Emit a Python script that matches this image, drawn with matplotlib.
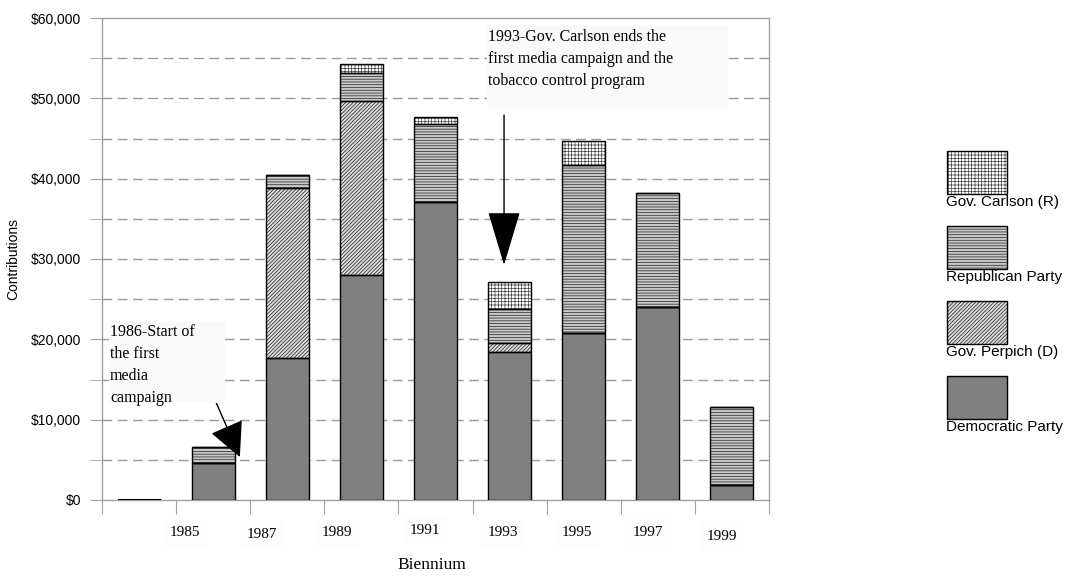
import matplotlib
matplotlib.use("Agg")
import matplotlib.pyplot as plt
from matplotlib.patches import Rectangle
from matplotlib.ticker import MultipleLocator, FuncFormatter
import numpy as np

# ==================================================
# DATA
# ==================================================

year_labels = ['', '1985', '1987', '1989', '1991', '1993', '1995', '1997', '1999']

democratic = [0, 4640, 17640, 28000, 37060, 18380, 20750, 23990, 1870]
perpich    = [0, 0, 21240, 21670, 0, 1120, 0, 0, 0]
republican = [0, 1920, 1580, 3450, 9710, 4280, 20950, 14270, 9670]
carlson    = [0, 0, 0, 1160, 950, 3320, 2990, 0, 0]

series_names = ['Democratic Party', 'Gov. Perpich (D)', 'Republican Party', 'Gov. Carlson (R)']

# ==================================================
# STYLE
# ==================================================

plt.rcParams['hatch.linewidth'] = 0.5
SANS = 'Liberation Sans'
SERIF = 'Liberation Serif'
GRAY = '#a0a0a0'

# fill, hatch pattern, hatch colour
styles = {
    'Democratic Party': dict(facecolor='#808080', hatch=None, hc='#808080'),
    'Gov. Perpich (D)': dict(facecolor='#dcdcdc', hatch='/////////', hc='#202020'),
    'Republican Party': dict(facecolor='#c8c8c8', hatch='------', hc='#202020'),
    'Gov. Carlson (R)': dict(facecolor='white', hatch='+++++', hc='#404040'),
}

W, H = 1073, 580
fig = plt.figure(figsize=(W / 100, H / 100), dpi=100)


def fx(px):
    return px / W


def fy(py):
    return 1 - py / H


ax = fig.add_axes([fx(102), fy(500), fx(769) - fx(102), fy(18) - fy(500)])

x = np.arange(len(year_labels))
bottom = np.zeros(len(x))
for name, vals in zip(series_names, [democratic, perpich, republican, carlson]):
    vals = np.array(vals, dtype=float)
    st = styles[name]
    # hatched fill (hatch colour comes from edgecolor), then black outline
    ax.bar(x, vals, 0.58, bottom=bottom, facecolor=st['facecolor'],
           hatch=st['hatch'], edgecolor=st['hc'], linewidth=0, zorder=3)
    ax.bar(x, vals, 0.58, bottom=bottom, facecolor='none',
           edgecolor='black', linewidth=1, zorder=3.5)
    bottom += vals

# zero-value first category drawn as a flat line
ax.bar(x[0], 0, 0.58, facecolor='none', edgecolor='black', linewidth=1.5, zorder=3)

ax.set_xlim(-0.5, len(x) - 0.5)
ax.set_ylim(0, 60000)

ax.yaxis.set_major_locator(MultipleLocator(10000))
ax.yaxis.set_minor_locator(MultipleLocator(5000))
ax.yaxis.set_major_formatter(FuncFormatter(lambda v, p: '${:,.0f}'.format(v)))
ax.tick_params(axis='y', which='both', direction='out', length=9, color=GRAY,
               labelsize=10, pad=6)
for lab in ax.get_yticklabels():
    lab.set_fontfamily(SANS)

ax.set_xticks(np.arange(-0.5, len(x), 1.0))
ax.set_xticklabels([])
ax.tick_params(axis='x', direction='out', length=10, color=GRAY)

for v in np.arange(5000, 60000, 5000):
    ax.axhline(v, color='#9a9a9a', linestyle=(0, (7, 4)), linewidth=1, zorder=1)

for s in ax.spines.values():
    s.set_color(GRAY)
    s.set_linewidth(1)

ax.set_ylabel('Contributions', fontfamily=SANS, fontsize=10, labelpad=2)
ax.yaxis.set_label_coords(-0.122, 0.5)

# year labels (placed slightly left of the bars, as in the original)
label_shift = [0, -0.38, -0.34, -0.33, -0.14, -0.09, -0.09, -0.13, -0.13]
label_drop = [0, 33, 35, 33, 30, 33, 33, 32, 36]
for i, lab in enumerate(year_labels):
    if not lab:
        continue
    ax.annotate(lab, xy=(x[i] + label_shift[i], 0), xycoords='data',
                xytext=(0, -label_drop[i]), textcoords='offset pixels',
                ha='center', va='center', fontfamily=SERIF, fontsize=11,
                bbox=dict(boxstyle='square,pad=0.5', fc='#fdfdfd', ec='none'),
                annotation_clip=False)

fig.text(fx(432), fy(565), 'Biennium', ha='center', va='center',
         fontfamily=SERIF, fontsize=12.5)

# ==================================================
# ANNOTATIONS
# ==================================================

fig.patches.append(Rectangle((fx(109), fy(403)), fx(225) - fx(109), fy(321) - fy(403),
                             transform=fig.transFigure, fc='#fafafa', ec='none', zorder=2))
fig.text(fx(110), fy(324), '1986-Start of\nthe first\nmedia\ncampaign', ha='left', va='top',
         fontfamily=SERIF, fontsize=11.5, linespacing=1.5, zorder=4)

fig.patches.append(Rectangle((fx(487), fy(108)), fx(728) - fx(487), fy(25) - fy(108),
                             transform=fig.transFigure, fc='#fafafa', ec='none', zorder=2))
fig.text(fx(488), fy(29), '1993-Gov. Carlson ends the\nfirst media campaign and the\ntobacco control program',
         ha='left', va='top', fontfamily=SERIF, fontsize=11.5, linespacing=1.5, zorder=4)

ax.annotate('', xy=(1.36, 5350), xytext=(1.025, 12450),
            arrowprops=dict(arrowstyle='-|>,head_length=2.2,head_width=1.1',
                            mutation_scale=10, color='black', lw=1,
                            shrinkA=0, shrinkB=0), zorder=5)
ax.annotate('', xy=(4.925, 29260), xytext=(4.925, 47930),
            arrowprops=dict(arrowstyle='-|>,head_length=3.5,head_width=1.05',
                            mutation_scale=10, color='black', lw=1,
                            shrinkA=0, shrinkB=0), zorder=5)

# ==================================================
# LEGEND (patch above, label below)
# ==================================================

legend_order = ['Gov. Carlson (R)', 'Republican Party', 'Gov. Perpich (D)', 'Democratic Party']
for k, name in enumerate(legend_order):
    top = 151 + 75 * k
    st = styles[name]
    rect = (fx(947), fy(top + 43))
    rw, rh = fx(1007) - fx(947), fy(top) - fy(top + 43)
    fig.patches.append(Rectangle(rect, rw, rh, transform=fig.transFigure,
                                 facecolor=st['facecolor'], hatch=st['hatch'],
                                 edgecolor=st['hc'], linewidth=0))
    fig.patches.append(Rectangle(rect, rw, rh, transform=fig.transFigure,
                                 facecolor='none', edgecolor='black', linewidth=1))
    fig.text(fx(946), fy(top + 44), name, ha='left', va='top', fontfamily=SANS, fontsize=11)

plt.savefig('out.png', dpi=100)
